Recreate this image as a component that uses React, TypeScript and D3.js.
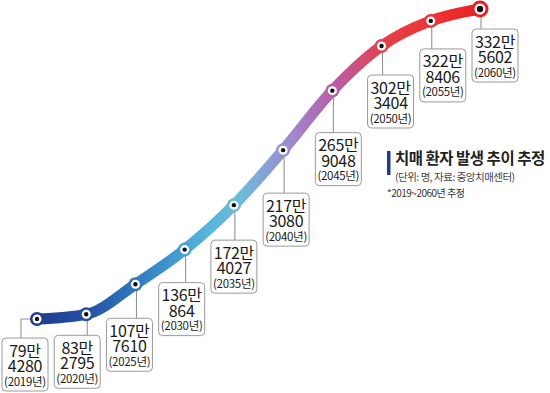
import React from "react";
import * as d3 from "d3";

const years = ["2019", "2020", "2025", "2030", "2035", "2040", "2045", "2050", "2055", "2060"];
const patients = [794280, 832795, 1077610, 1360864, 1724027, 2173080, 2659048, 3023404, 3228406, 3325602];
const manLabels = ["79만", "83만", "107만", "136만", "172만", "217만", "265만", "302만", "322만", "332만"];
const restLabels = ["4280", "2795", "7610", "864", "4027", "3080", "9048", "3404", "8406", "5602"];
const yearLabels = ["(2019년)", "(2020년)", "(2025년)", "(2030년)", "(2035년)", "(2040년)", "(2045년)", "(2050년)", "(2055년)", "(2060년)"];

const title = "치매 환자 발생 추이 추정";
const subtitle = "(단위: 명, 자료: 중앙치매센터)";
const footnote = "*2019~2060년 추정";

// layout (not data): vertical drop of each label box below its point
const boxDrop = [19, 21, 34, 33, 35, 43, 42, 29, 28, 20];

const W = 550;
const H = 393;
const FONT = "'Noto Sans CJK KR', 'Noto Sans', sans-serif";
const NARROW = "'Liberation Sans Narrow', 'Noto Sans CJK KR', sans-serif";

export default function App() {
  const x = d3.scalePoint<string>().domain(years).range([37, 480]);
  const y = d3.scaleLinear().domain([d3.min(patients)!, d3.max(patients)!]).range([319, 9]);
  const boxX = d3.scalePoint<string>().domain(years).range([2, 472]);

  const pts: [number, number][] = years.map((yr, i) => [x(yr)!, y(patients[i])]);
  const line = d3.line().curve(d3.curveMonotoneX)(pts) || "";

  const boxW = 46;
  const boxH = 53;
  const last = years.length - 1;

  return (
    <svg width={W} height={H} style={{ position: "absolute", left: 0, top: 0, background: "#fff" }} fontFamily={FONT}>
      <defs>
        <linearGradient id="lg" gradientUnits="userSpaceOnUse" x1={x(years[0])} y1={0} x2={x(years[last])} y2={0}>
          <stop offset="0" stopColor="#1f3c8c" />
          <stop offset="0.12" stopColor="#2552a6" />
          <stop offset="0.25" stopColor="#3584c4" />
          <stop offset="0.38" stopColor="#56b4da" />
          <stop offset="0.46" stopColor="#6cbcdb" />
          <stop offset="0.56" stopColor="#9a8ed2" />
          <stop offset="0.67" stopColor="#b85ea8" />
          <stop offset="0.78" stopColor="#e4404c" />
          <stop offset="0.9" stopColor="#ee3232" />
          <stop offset="1" stopColor="#e82222" />
        </linearGradient>
      </defs>

      {/* connectors */}
      {years.map((yr, i) => {
        const [px, py] = pts[i];
        const bx = boxX(yr)!;
        const top = py + boxDrop[i];
        if (i === 0) {
          const ex = bx + 19;
          return <polyline key={yr} points={`${px},${py} ${ex},${py} ${ex},${top}`} fill="none" stroke="#8a8a8a" strokeWidth={1} />;
        }
        return <line key={yr} x1={px + 1} y1={py} x2={px + 1} y2={top} stroke="#8a8a8a" strokeWidth={1} />;
      })}

      {/* label boxes */}
      {years.map((yr, i) => {
        const bx = boxX(yr)!;
        const top = pts[i][1] + boxDrop[i];
        const cx = bx + boxW / 2;
        return (
          <g key={"b" + yr}>
            <rect x={bx} y={top} width={boxW} height={boxH} rx={4} fill="#fff" stroke="#9a9a9a" strokeWidth={1} />
            <text x={cx} y={top + 18.5} textAnchor="middle" fill="#1a1a1a" fontFamily={NARROW}>
              <tspan x={cx} fontSize={16} letterSpacing={-0.3}>{manLabels[i]}</tspan>
              <tspan x={cx} dy={15.5} fontSize={16} letterSpacing={-0.3}>{restLabels[i]}</tspan>
              <tspan x={cx} dy={13.5} fontSize={11.5} letterSpacing={-0.3}>{yearLabels[i]}</tspan>
            </text>
          </g>
        );
      })}

      {/* line */}
      <path d={line} fill="none" stroke="url(#lg)" strokeWidth={11} strokeLinecap="round" strokeLinejoin="round" />

      {/* points */}
      {pts.map(([px, py], i) =>
        i === last ? (
          <g key={"p" + i}>
            <circle cx={px} cy={py} r={8.5} fill="#e82222" />
            <circle cx={px} cy={py} r={5.5} fill="#fff" />
            <circle cx={px} cy={py} r={3.2} fill="#111" />
          </g>
        ) : (
          <g key={"p" + i}>
            <circle cx={px} cy={py} r={7} fill="url(#lg)" />
            <circle cx={px} cy={py} r={4.5} fill="#fff" />
            <circle cx={px} cy={py} r={2.2} fill="#111" />
          </g>
        )
      )}

      {/* title block */}
      <rect x={387} y={151} width={3.5} height={24} fill="#1f3c8c" />
      <text x={395} y={164} fontSize={15.5} fontWeight={700} letterSpacing={-0.5} fill="#222">{title}</text>
      <text x={395} y={181} fontSize={10.5} letterSpacing={-0.5} fill="#444">{subtitle}</text>
      <text x={387} y={197} fontSize={10} letterSpacing={-0.5} fill="#333">{footnote}</text>
    </svg>
  );
}
